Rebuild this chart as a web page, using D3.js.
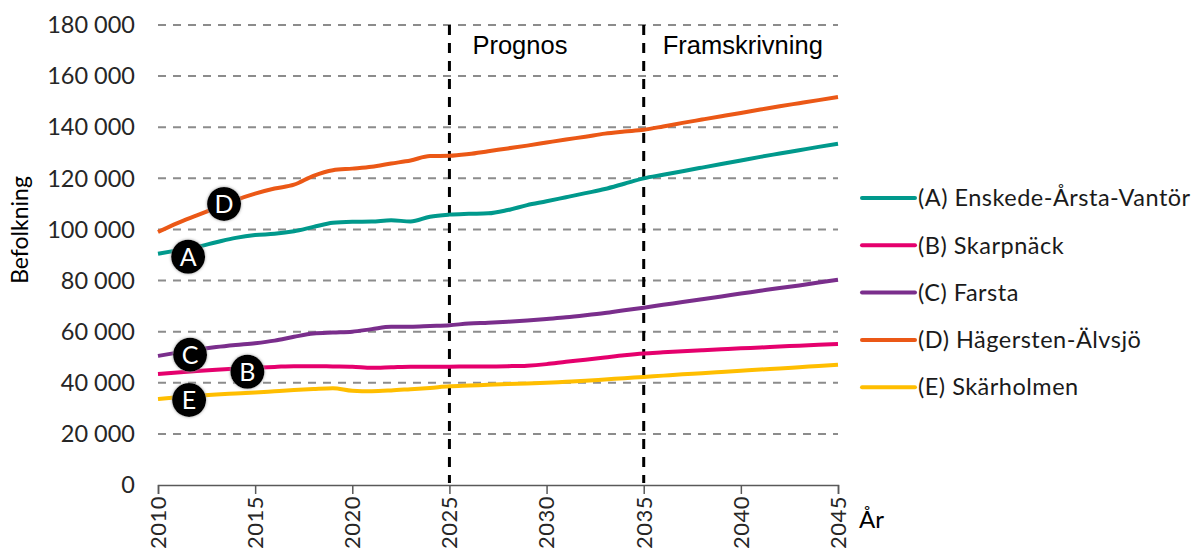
<!DOCTYPE html>
<html><head><meta charset="utf-8">
<script src="https://cdn.jsdelivr.net/npm/d3@7"></script>
<style>body{margin:0;background:#fff}svg{display:block}text{font-family:Lato,"Open Sans",sans-serif;fill:#262626}</style>
</head><body><svg id="c" width="1197" height="554"></svg>
<script>
const years = d3.range(2010, 2046);
const seriesNames = ["(A) Enskede-Årsta-Vantör","(B) Skarpnäck","(C) Farsta","(D) Hägersten-Älvsjö","(E) Skärholmen"];
const seriesKeys = ["A","B","C","D","E"];
const seriesColors = ["#00998C","#E5006D","#7A2E8C","#EB5816","#FFBE00"];
const valuesA = [90500,91800,93200,95000,96700,97800,98300,99300,101000,102600,103000,103100,103600,103100,105000,105800,106100,106300,107600,109500,111000,112600,114200,115800,117900,120000,121400,122800,124200,125600,127000,128400,129700,131000,132300,133500];
const valuesB = [43400,44000,44600,45100,45500,45900,46200,46500,46500,46400,46300,45900,46100,46300,46300,46300,46400,46400,46500,46700,47300,48200,49000,49900,50800,51500,51900,52300,52700,53100,53500,53800,54200,54500,54900,55200];
const valuesC = [50500,51800,53000,54000,54800,55500,56500,58000,59300,59700,60000,61000,61900,61900,62200,62500,63200,63500,63900,64400,65000,65600,66400,67300,68400,69400,70500,71600,72700,73800,74900,76000,77100,78100,79200,80300];
const valuesD = [99000,102500,105500,108500,111500,114000,116000,117500,121000,123200,123800,124500,125800,127000,128700,128800,129500,130600,131700,132800,134000,135200,136300,137500,138300,139000,140300,141700,143000,144300,145600,146900,148200,149400,150600,151800];
const valuesE = [33600,34300,34900,35400,35800,36200,36700,37200,37600,37900,36900,36700,37000,37500,38000,38600,38900,39200,39500,39700,40000,40400,40800,41300,41800,42300,42800,43300,43700,44200,44700,45200,45600,46100,46600,47100];
const allValues = [valuesA, valuesB, valuesC, valuesD, valuesE];
const yTicks = [0,20000,40000,60000,80000,100000,120000,140000,160000,180000];
const xTicks = [2010,2015,2020,2025,2030,2035,2040,2045];
const phaseYears = [2025, 2035];
const phaseLabels = [{x0:2025,text:"Prognos"},{x0:2035,text:"Framskrivning"}];
// label badges: [key, year, value]
const badges = [["D",2013.4,110000],["A",2011.55,89300],["C",2011.65,51000],["B",2014.6,44300],["E",2011.6,33300]];

const svg = d3.select("#c");
const L=158, R=838, T=25, B=485;
const x = d3.scaleLinear().domain([2010,2045]).range([L,R]);
const y = d3.scaleLinear().domain([0,180000]).range([B,T]);
const fmt = v => d3.format(",")(v).replace(/,/g," ");

const defs = svg.append("defs");
const f = defs.append("filter").attr("id","glow").attr("x","-50%").attr("y","-50%").attr("width","200%").attr("height","200%");
f.append("feGaussianBlur").attr("in","SourceAlpha").attr("stdDeviation",1.8).attr("result","b");
f.append("feFlood").attr("flood-color","#999").attr("result","c");
f.append("feComposite").attr("in","c").attr("in2","b").attr("operator","in").attr("result","s");
const m = f.append("feMerge"); m.append("feMergeNode").attr("in","s"); m.append("feMergeNode").attr("in","SourceGraphic");

// grid
svg.append("g").selectAll("line").data(yTicks.filter(d=>d>0)).join("line")
  .attr("x1",L).attr("x2",R).attr("y1",d=>y(d)).attr("y2",d=>y(d))
  .attr("stroke","#8c8c8c").attr("stroke-width",2).attr("stroke-dasharray","8,7");

// y tick labels
svg.append("g").selectAll("text").data(yTicks).join("text")
  .attr("x",135).attr("y",d=>y(d)).attr("dy","0.35em").attr("text-anchor","end")
  .style("font-size","23.5px").text(fmt);

// x axis
const xa = svg.append("g").attr("transform",`translate(0,${B})`)
  .call(d3.axisBottom(x).tickValues(xTicks).tickSize(9).tickFormat(""));
xa.select(".domain").attr("stroke","#595959").attr("stroke-width",1.5);
xa.selectAll(".tick line").attr("stroke","#595959").attr("stroke-width",1.5);
svg.append("g").selectAll("text").data(xTicks).join("text")
  .attr("transform",d=>`translate(${x(d)},496) rotate(-90)`).attr("dy","0.36em")
  .attr("text-anchor","end").style("font-size","22px").style("letter-spacing","0.5px").text(d=>d);

// phase lines
svg.append("g").selectAll("line").data(phaseYears).join("line")
  .attr("x1",d=>x(d)).attr("x2",d=>x(d)).attr("y1",T).attr("y2",B-2)
  .attr("stroke","#000").attr("stroke-width",3).attr("stroke-dasharray","10,8");
svg.append("g").selectAll("text").data(phaseLabels).join("text")
  .attr("x",(d,i)=>x(d.x0)+(i===0?23:19)).attr("y",45).attr("dy","0.35em").attr("text-anchor","start")
  .style("font-family","'Liberation Sans',Arial,sans-serif").style("font-size","25.5px").style("fill","#000").text(d=>d.text);

// lines
const line = d3.line().x((d,i)=>x(years[i])).y(d=>y(d)).curve(d3.curveMonotoneX);
svg.append("g").selectAll("path").data(allValues).join("path")
  .attr("d",line).attr("fill","none").attr("stroke",(d,i)=>seriesColors[i])
  .attr("stroke-width",4).attr("stroke-linejoin","round");

// badges
const bg = svg.append("g").selectAll("g").data(badges).join("g")
  .attr("transform",d=>`translate(${x(d[1])},${y(d[2])})`);
bg.append("circle").attr("r",17).attr("fill","#000").attr("filter","url(#glow)");
bg.append("text").attr("text-anchor","middle").attr("dy","0.36em").style("font-size","25px").style("fill","#fff").text(d=>d[0]);

// axis titles
svg.append("text").attr("transform","translate(20,230) rotate(-90)").attr("text-anchor","middle")
  .attr("dy","0.35em").style("font-size","23px").style("fill","#000").text("Befolkning");
svg.append("text").attr("x",859).attr("y",520).attr("dy","0.35em").style("font-size","24px").style("fill","#000").text("År");

// legend
const lg = svg.append("g").selectAll("g").data(seriesNames).join("g")
  .attr("transform",(d,i)=>`translate(862,${198+i*47.3})`);
lg.append("line").attr("x1",0).attr("x2",53).attr("stroke",(d,i)=>seriesColors[i]).attr("stroke-width",4).attr("stroke-linecap","round");
lg.append("text").attr("x",56).attr("dy","0.35em").style("font-size","23.5px").style("letter-spacing","0.5px").style("fill","#1a1a1a").text(d=>d);
</script></body></html>
